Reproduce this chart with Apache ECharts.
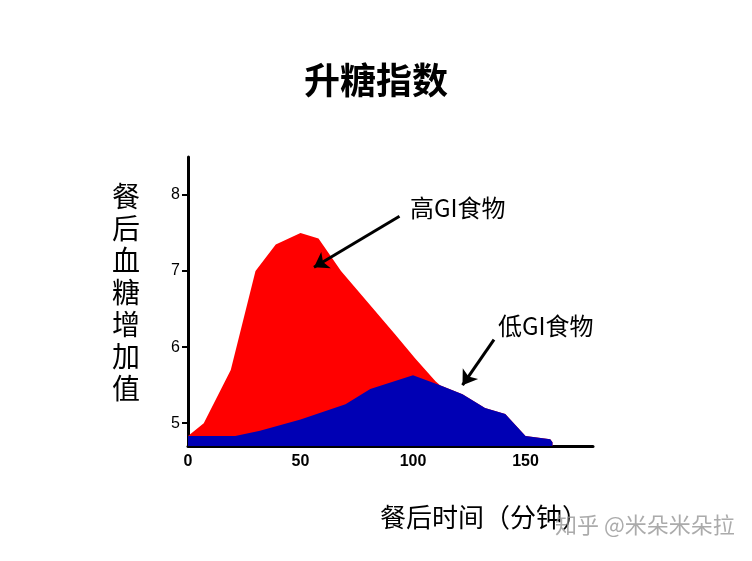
<!DOCTYPE html>
<html><head><meta charset="utf-8">
<script src="https://cdn.jsdelivr.net/npm/echarts@6/dist/echarts.min.js"></script>
<style>html,body{margin:0;background:#fff}#c{width:752px;height:561px}</style>
</head><body><div id="c"></div>
<script>
// 高GI食物 (red) and 低GI食物 (blue), [minutes, value]
const highGI = [[0,4.83],[7,5.0],[19,5.7],[30,7.0],[39,7.35],[50,7.5],[58,7.43],[68,7.0],[81,6.55],[92,6.17],[101,5.85],[110,5.55],[112,5.5],[122,5.38],[132,5.2],[141,5.12],[150,4.83],[161,4.79],[162,4.75]];
const lowGI = [[0,4.83],[21,4.83],[32,4.9],[50,5.05],[70,5.25],[81,5.45],[100,5.63],[112,5.5],[122,5.38],[132,5.2],[141,5.12],[150,4.83],[161,4.79],[162,4.75]];
const yTicks = [5,6,7,8];
const xTicks = [0,50,100,150];

const chart = echarts.init(document.getElementById('c'));
const font = '"Noto Sans CJK SC", sans-serif';
chart.setOption({
    backgroundColor:'#fff',
    animation:false,
    grid:{left:188,right:159,top:157,bottom:115},
    xAxis:{type:'value',min:0,max:180,interval:50,
        axisLine:{lineStyle:{color:'#000',width:3}},
        axisTick:{show:false},splitLine:{show:false},
        axisLabel:{color:'#000',fontSize:16,fontWeight:'bold',fontFamily:'Arial',customValues:xTicks}},
    yAxis:{type:'value',min:4.7,max:8.5,
        axisLine:{show:true,lineStyle:{color:'#000',width:3}},
        axisTick:{show:true,length:6,lineStyle:{color:'#000',width:2},customValues:yTicks},
        splitLine:{show:false},
        axisLabel:{color:'#000',fontSize:16,fontFamily:'Arial',customValues:yTicks}},
    series:[
        {type:'line',data:highGI,symbol:'none',lineStyle:{width:0},
         areaStyle:{color:'#ff0000',opacity:1,origin:'start'},
         markLine:{silent:true,lineStyle:{color:'#000',width:3,type:'solid'},label:{show:false},
            data:[[{coord:[94,7.72],symbol:'none'},{coord:[56,7.05],symbol:'arrow',symbolSize:14}]]}},
        {type:'line',data:lowGI,symbol:'none',lineStyle:{width:0},
         areaStyle:{color:'#0000b4',opacity:1,origin:'start'},
         markLine:{silent:true,lineStyle:{color:'#000',width:3,type:'solid'},label:{show:false},
            data:[[{coord:[136,6.1],symbol:'none'},{coord:[122,5.5],symbol:'arrow',symbolSize:14}]]}}
    ],
    graphic:[
        {type:'text',left:'center',top:62,style:{text:'升糖指数',font:'bold 36px '+font,fill:'#000'}},
        {type:'text',left:410,top:196,style:{text:'高GI食物',font:'24px '+font,fill:'#000'}},
        {type:'text',left:498,top:314,style:{text:'低GI食物',font:'24px '+font,fill:'#000'}},
        {type:'text',left:112,top:180,style:{text:'餐\n后\n血\n糖\n增\n加\n值',font:'28px '+font,lineHeight:32,fill:'#000'}},
        {type:'text',left:380,top:504,style:{text:'餐后时间（分钟）',font:'26px '+font,fill:'#000'}},
        {type:'text',left:555,top:514,style:{text:'知乎 @米朵米朵拉',font:'22px '+font,fill:'rgba(150,150,150,0.8)'}}
    ]
});
</script></body></html>
